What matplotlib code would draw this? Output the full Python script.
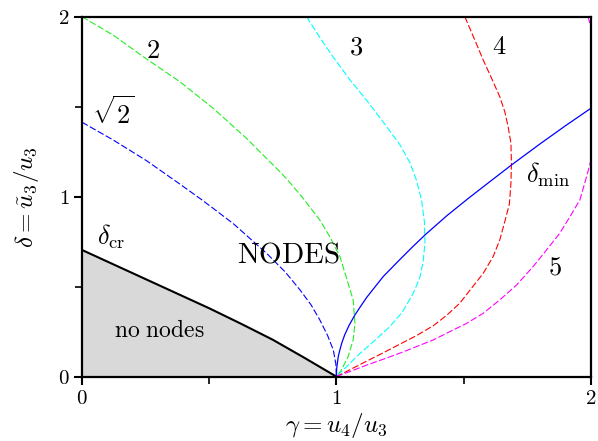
import numpy as np
import matplotlib
matplotlib.use("Agg")
import matplotlib.pyplot as plt

plt.rcParams['mathtext.fontset'] = 'cm'
plt.rcParams['font.family'] = 'DejaVu Serif'

# ---- data ----
# curve "2" (green)
g2 = [0.0, 0.123, 0.241, 0.385, 0.516, 0.647, 0.699, 0.778, 0.804, 0.87, 0.935, 0.974, 1.014,
      1.046, 1.066, 1.073, 1.066, 1.046, 1.02, 1.0]
d2 = [2.0, 1.898, 1.778, 1.639, 1.491, 1.324, 1.25, 1.139, 1.10, 0.99, 0.87, 0.778, 0.667,
      0.519, 0.426, 0.296, 0.204, 0.111, 0.037, 0.0]

# curve "sqrt2" (blue dashed)
gs2 = [0.0, 0.123, 0.254, 0.385, 0.464, 0.516, 0.595, 0.726, 0.80, 0.857, 0.90, 0.935, 0.965,
       0.988, 0.998, 1.0]
ds2 = [1.414, 1.315, 1.20, 1.07, 0.99, 0.935, 0.85, 0.685, 0.58, 0.482, 0.40, 0.315, 0.23,
       0.148, 0.07, 0.0]

# curve "3" (cyan)
g3 = [0.883, 0.935, 0.988, 1.053, 1.119, 1.184, 1.249, 1.289, 1.315, 1.335, 1.346, 1.348,
      1.341, 1.328, 1.302, 1.26, 1.21, 1.15, 1.079, 1.04, 1.0]
d3 = [2.0, 1.885, 1.775, 1.65, 1.535, 1.415, 1.29, 1.19, 1.09, 0.98, 0.86, 0.74,
      0.64, 0.55, 0.463, 0.36, 0.278, 0.20, 0.111, 0.055, 0.0]

# curve "4" (red)
g4 = [1.505, 1.544, 1.577, 1.61, 1.642, 1.662, 1.675, 1.686, 1.688, 1.686, 1.68, 1.662, 1.642,
      1.616, 1.577, 1.531, 1.485, 1.433, 1.381, 1.315, 1.249, 1.185, 1.119, 1.06, 1.0]
d4 = [2.0, 1.871, 1.76, 1.658, 1.556, 1.472, 1.389, 1.297, 1.185, 1.074, 0.96, 0.862, 0.759,
      0.667, 0.574, 0.491, 0.408, 0.34, 0.283, 0.228, 0.18, 0.133, 0.086, 0.043, 0.0]

# curve "5" (magenta), two visible pieces
g5 = [1.0, 1.06, 1.119, 1.185, 1.249, 1.315, 1.381, 1.446, 1.512, 1.577, 1.642, 1.708, 1.773,
      1.826, 1.878, 1.918, 1.957, 1.983, 2.0, np.nan, 1.989, 2.0]
d5 = [0.0, 0.032, 0.064, 0.097, 0.13, 0.167, 0.204, 0.25, 0.296, 0.352, 0.426, 0.509, 0.611,
      0.704, 0.797, 0.889, 0.982, 1.11, 1.2, np.nan, 2.0, 1.944]

# delta_min (blue solid)
gmin = [1.0, 1.001, 1.004, 1.008, 1.014, 1.022, 1.033, 1.05, 1.073, 1.095, 1.119, 1.184, 1.249,
        1.30, 1.348, 1.433, 1.518, 1.6, 1.688, 1.8, 1.9, 2.0]
dmin = [0.0, 0.04, 0.078, 0.115, 0.15, 0.19, 0.233, 0.285, 0.343, 0.39, 0.44, 0.556, 0.65,
        0.722, 0.787, 0.893, 0.99, 1.08, 1.176, 1.293, 1.394, 1.491]

# delta_cr (black solid)
gcr = [0.0, 0.125, 0.25, 0.375, 0.5, 0.625, 0.75, 0.875, 1.0]
dcr = [0.704, 0.623, 0.542, 0.461, 0.38, 0.294, 0.205, 0.104, 0.0]

xticks = [0, 1, 2]
yticks = [0, 1, 2]

# ---- figure ----
fig = plt.figure(figsize=(5.98, 4.41), dpi=100)
ax = fig.add_axes([0.137, 0.146, 0.851, 0.816])

ax.fill_between(gcr, dcr, 0, color='#d9d9d9', lw=0)
ax.plot(gcr, dcr, color='black', lw=1.5)

dash = (0, (6, 2.2))
ax.plot(g2, d2, color='#22ee22', lw=0.8, linestyle=dash)
ax.plot(gs2, ds2, color='blue', lw=0.8, linestyle=dash)
ax.plot(g3, d3, color='cyan', lw=0.8, linestyle=dash)
ax.plot(g4, d4, color='red', lw=0.8, linestyle=dash)
ax.plot(g5, d5, color='magenta', lw=0.8, linestyle=dash)
ax.plot(gmin, dmin, color='blue', lw=0.9)

ax.set_xlim(0, 2)
ax.set_ylim(0, 2)
ax.set_xticks(xticks)
ax.set_yticks(yticks)
ax.set_xticklabels([f'$\\mathrm{{{t}}}$' for t in xticks], fontsize=15)
ax.set_yticklabels([f'$\\mathrm{{{t}}}$' for t in yticks], fontsize=15)
ax.set_xticks([0.5, 1.5], minor=True)
ax.set_yticks([0.5, 1.5], minor=True)
ax.tick_params(which='major', direction='out', length=6, width=1.5, pad=3)
ax.tick_params(which='minor', direction='out', length=5, width=1.2)
for s in ax.spines.values():
    s.set_linewidth(1.6)

ax.set_xlabel(r'$\gamma = u_4/u_3$', fontsize=18, labelpad=2)
ax.set_ylabel(r'$\delta = \tilde{u}_3/u_3$', fontsize=18, labelpad=12)

tkw = dict(ha='center', va='center')
ax.text(0.279, 1.815, r'$2$', fontsize=19, **tkw)
ax.text(0.125, 1.47, r'$\sqrt{2}$', fontsize=19, **tkw)
ax.text(1.079, 1.833, r'$3$', fontsize=19, **tkw)
ax.text(1.640, 1.833, r'$4$', fontsize=19, **tkw)
ax.text(1.859, 0.611, r'$5$', fontsize=19, **tkw)
ax.text(1.832, 1.12, r'$\delta_{\rm min}$', fontsize=19, **tkw)
ax.text(0.117, 0.775, r'$\delta_{\rm cr}$', fontsize=19, **tkw)
ax.text(0.811, 0.676, r'$\mathrm{NODES}$', fontsize=21, **tkw)
ax.text(0.306, 0.259, r'$\mathrm{no\ nodes}$', fontsize=17, **tkw)

fig.savefig('out.png', dpi=100)
